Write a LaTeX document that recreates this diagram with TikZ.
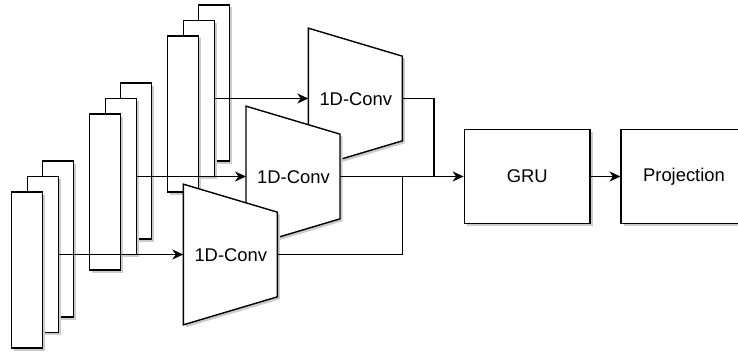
\documentclass[tikz,border=0pt]{standalone}
\usepackage{fontspec}
\setmainfont{Liberation Sans}
\usetikzlibrary{arrows.meta,positioning,shadows}

\tikzset{
  dropshade/.style={drop shadow={shadow xshift=2.5pt,shadow yshift=-2.5pt,fill=black!20,draw=none,opacity=1}},
  slab/.style={draw,fill=white,line width=1.4pt,inner sep=0pt,minimum width=31pt,minimum height=156pt,dropshade},
  convshape/.style={draw,fill=white,line width=1.4pt,line join=miter,dropshade},
  block/.style={draw,fill=white,line width=1.4pt,inner sep=0pt,minimum width=125.7pt,minimum height=94pt,dropshade,font=\fontsize{18.4}{22}\selectfont},
  convlabel/.style={inner sep=0pt,font=\fontsize{18.4}{22}\selectfont},
  wire/.style={line width=1.4pt},
}

% stack of three feature maps, #1 name, #2 centre of the front one
\newcommand{\drawStack}[2]{
    \begin{scope}[shift={(#2)}]
        \node[slab] (#1b) at (31,-31) {};
        \node[slab] (#1m) at (15.5,-15.5) {};
        \node[slab] (#1f) at (0,0) {};
    \end{scope}
}

% convolution block, #1 name, #2 top left corner
\newcommand{\drawConv}[2]{
    \begin{scope}[shift={(#2)}]
        \draw[convshape] (0,0) -- (94,28) -- (94,112.7) -- (0,140.7) -- cycle;
        \node[convlabel] (#1) at (47.5,71.5) {1D-Conv};
        \coordinate (#1-in) at (0,70.35);
        \coordinate (#1-out) at (94,70.35);
    \end{scope}
}

\begin{document}
\begin{tikzpicture}[x=1pt,y=-1pt,>={Stealth[length=11pt,width=10pt,inset=3.5pt]}]
    \useasboundingbox (0,0) rectangle (738,353);

    \drawStack{sA}{27.2,270}
    \drawStack{sB}{105.2,192}
    \drawStack{sC}{183.2,114}

    \drawConv{convT}{308.3,28.15}
    \drawConv{convM}{246,106.15}
    \drawConv{convB}{183.3,184.15}

    \node[block] (gru) at (527.2,176.5) {GRU};
    \node[block] (proj) at (684,176.5) {Projection};

    \coordinate (mergeT) at (434,176.5);
    \coordinate (mergeB) at (402.3,176.5);

    \draw[wire,->] (sAm.east) -- (convB-in);
    \draw[wire,->] (sBm.east) -- (convM-in);
    \draw[wire,->] (sCm.east) -- (convT-in);

    \draw[wire] (convT-out) -| (mergeT);
    \draw[wire] (convB-out) -| (mergeB);
    \draw[wire,->] (convM-out) -- (gru.west);
    \draw[wire,->] (gru.east) -- (proj.west);
\end{tikzpicture}
\end{document}
